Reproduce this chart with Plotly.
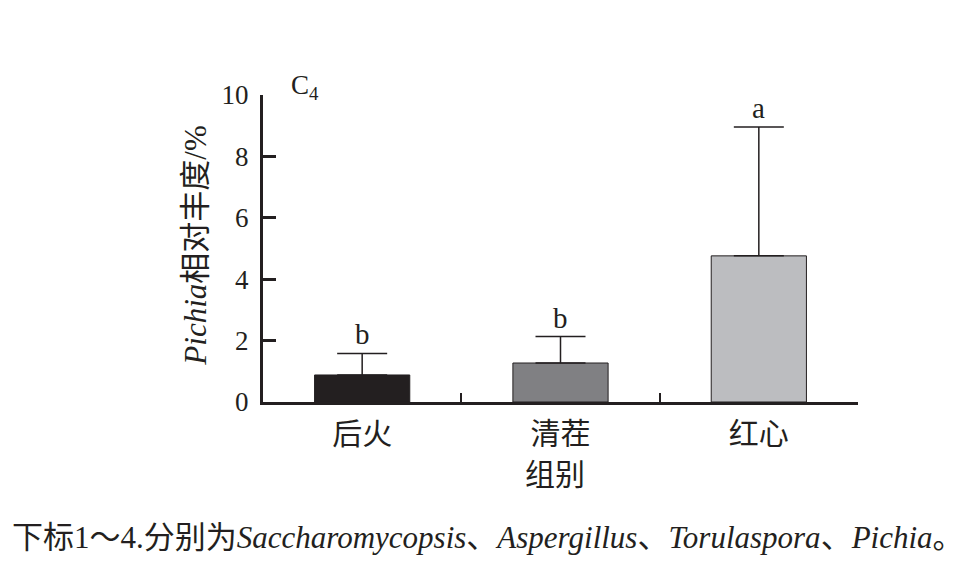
import plotly.graph_objects as go

categories = ["后火", "清茬", "红心"]
values = [0.88, 1.27, 4.76]
errors = [0.70, 0.86, 4.20]
letters = ["b", "b", "a"]
colors = ["#231f20", "#808083", "#bcbdc0"]
y_ticks = [0, 2, 4, 6, 8, 10]

SERIF = "Liberation Serif, Times New Roman, Noto Sans CJK SC"
CJK = "Noto Sans CJK SC, Liberation Serif"


def ser(s, italic=False):
    st = "font-family:'Liberation Serif'"
    inner = f"<span style=\"{st}\">{s}</span>"
    return f"<i>{inner}</i>" if italic else inner


def cjk(s):
    return f"<span style=\"font-family:'Noto Sans CJK SC'\">{s}</span>"


fig = go.Figure()
fig.add_trace(go.Bar(
    x=categories, y=values,
    marker=dict(color=colors, line=dict(color="#231f20", width=1)),
    width=0.48,
    error_y=dict(type="data", symmetric=False, array=errors,
                 arrayminus=[0] * len(errors),
                 color="#231f20", thickness=1.5, width=25),
    showlegend=False,
))

for c, v, e, l in zip(categories, values, errors, letters):
    fig.add_annotation(x=c, y=v + e, text=l, showarrow=False,
                       yanchor="bottom", yshift=1,
                       font=dict(family=SERIF, size=29, color="#231f20"))

fig.add_annotation(xref="paper", yref="paper", x=0.043, y=1.025,
                   text="C<sub>4</sub>", showarrow=False,
                   xanchor="left", yanchor="middle",
                   font=dict(family=SERIF, size=27, color="#231f20"))

fig.add_annotation(xref="paper", yref="paper", x=-0.119, y=0.51,
                   text=ser("Pichia", True) + cjk("相对丰度") + ser("/%"),
                   textangle=-90,
                   showarrow=False, xanchor="center", yanchor="middle",
                   font=dict(family=SERIF, size=31, color="#231f20"))

fig.add_annotation(xref="paper", yref="paper", x=0.49, y=-0.228,
                   text="组别", showarrow=False,
                   xanchor="center", yanchor="middle",
                   font=dict(family=CJK, size=30, color="#231f20"))

caption = (cjk("下标") + ser("1") + cjk("～") + ser("4.") + cjk("分别为")
           + ser("Saccharomycopsis", True) + cjk("、")
           + ser("Aspergillus", True) + cjk("、")
           + ser("Torulaspora", True) + cjk("、")
           + ser("Pichia", True) + cjk("。"))

fig.add_annotation(xref="paper", yref="paper", x=-0.425, y=-0.433,
                   text=caption,
                   showarrow=False, xanchor="left", yanchor="middle",
                   font=dict(family=SERIF, size=31, color="#231f20"))

fig.update_layout(
    width=980, height=570,
    margin=dict(l=263, r=122, t=95, b=168),
    paper_bgcolor="white", plot_bgcolor="white",
    bargap=0.52,
    xaxis=dict(
        showline=True, linecolor="#231f20", linewidth=3,
        ticks="inside", tickson="boundaries", ticklen=9, tickwidth=2,
        tickcolor="#231f20", showgrid=False,
        tickfont=dict(family=CJK, size=30, color="#231f20"),
        ticklabelstandoff=3,
        range=[-0.5, 2.5],
    ),
    yaxis=dict(
        range=[0, 10], tickvals=y_ticks,
        showline=True, linecolor="#231f20", linewidth=3,
        ticks="inside", ticklen=13, tickwidth=3, tickcolor="#231f20",
        showgrid=False, zeroline=False,
        ticklabelstandoff=6,
        tickfont=dict(family=SERIF, size=27, color="#231f20"),
    ),
)

fig.write_html("out.html")
